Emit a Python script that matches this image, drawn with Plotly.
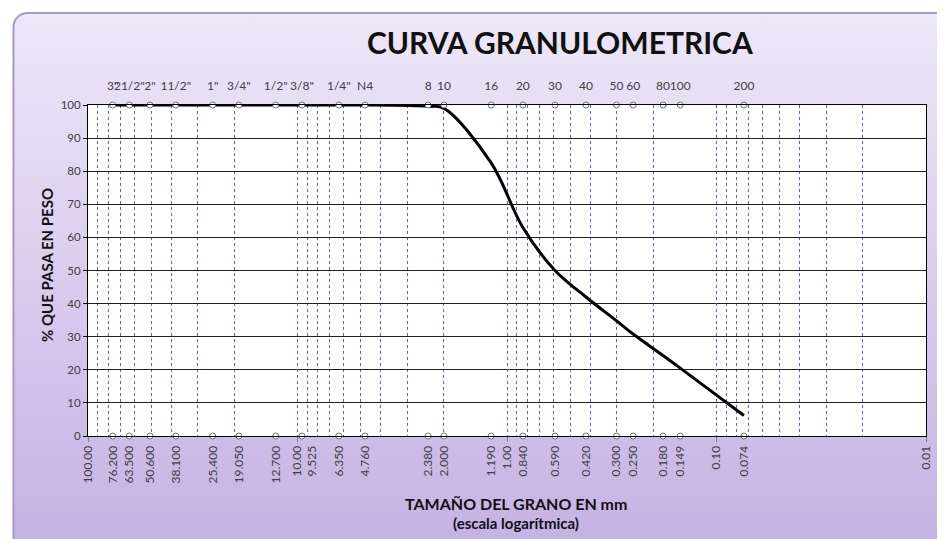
import base64
import plotly.graph_objects as go

# ---------------- data ----------------
sieve_names = ['3"', '21/2"', '2"', '11/2"', '1"', '3/4"', '1/2"', '3/8"', '1/4"', 'N4',
               '8', '10', '16', '20', '30', '40', '50', '60', '80', '100', '200']
sieve_mm = [76.2, 63.5, 50.6, 38.1, 25.4, 19.05, 12.7, 9.525, 6.35, 4.76,
            2.38, 2.0, 1.19, 0.84, 0.59, 0.42, 0.30, 0.25, 0.18, 0.149, 0.074]
passing = [100, 100, 100, 100, 100, 100, 100, 100, 100, 100,
           99.6, 99.0, 82.5, 63.0, 50.0, 42.0, 34.8, 30.8, 24.3, 20.5, 6.2]

bottom_vals = [100, 76.2, 63.5, 50.6, 38.1, 25.4, 19.05, 12.7, 10, 6.35, 4.76, 2.38, 2.0,
               1.19, 1.0, 0.84, 0.59, 0.42, 0.30, 0.25, 0.18, 0.149, 0.1, 0.074, 0.01]
bottom_text = ["100.00", "76.200", "63.500", "50.600", "38.100", "25.400", "19.050", "12.700",
               "10.00", "6.350", "4.760", "2.380", "2.000", "1.190", "1.00", "0.840", "0.590",
               "0.420", "0.300", "0.250", "0.180", "0.149", "0.10", "0.074", "0.01"]
shifted_val = [9.525]
shifted_text = ["9.525"]
y_ticks = [0, 10, 20, 30, 40, 50, 60, 70, 80, 90, 100]
y_bottom = [0] * len(sieve_mm)
y_top = [100] * len(sieve_mm)

FONT = "Lato"
TXT = "#404040"
XRANGE = [2, -2]
OFF = 8  # page body margin
W, H = 945 - OFF, 539 - OFF

# ---------------- background panel (gradient) ----------------
svg = """<svg xmlns='http://www.w3.org/2000/svg' width='948' height='548' viewBox='0 0 948 548'>
<defs><linearGradient id='g' x1='0' y1='0' x2='0' y2='1'>
<stop offset='0' stop-color='#ede8f8'/><stop offset='1' stop-color='#c3afe2'/></linearGradient></defs>
<rect x='1.5' y='1' width='960' height='560' rx='14' ry='14' fill='url(#g)' stroke='#a897cc' stroke-width='2'/>
</svg>"""
svg_uri = "data:image/svg+xml;base64," + base64.b64encode(svg.encode()).decode()

fig = go.Figure()

# curve
fig.add_trace(go.Scatter(x=sieve_mm, y=passing, mode="lines",
                         line=dict(color="black", width=3, shape="spline", smoothing=1.0),
                         cliponaxis=False, hoverinfo="x+y", showlegend=False, xaxis="x", yaxis="y"))
# sieve markers top
fig.add_trace(go.Scatter(x=sieve_mm, y=y_top, mode="markers", xaxis="x2", yaxis="y",
                         marker=dict(symbol="circle", size=6, color="white",
                                     line=dict(color="#707070", width=1)),
                         cliponaxis=False, showlegend=False, hoverinfo="skip"))
# sieve markers bottom
fig.add_trace(go.Scatter(x=sieve_mm, y=y_bottom, mode="markers", xaxis="x3", yaxis="y",
                         marker=dict(symbol="circle", size=6, color="white",
                                     line=dict(color="#707070", width=1)),
                         cliponaxis=False, showlegend=False, hoverinfo="skip"))
# helper trace for shifted label axis
fig.add_trace(go.Scatter(x=shifted_val, y=[0], mode="markers", xaxis="x4", yaxis="y",
                         marker=dict(opacity=0), showlegend=False, hoverinfo="skip"))

fig.update_layout(
    width=W, height=H,
    margin=dict(l=88 - OFF, r=W - (926 - OFF), t=105 - OFF, b=H - (436 - OFF)),
    paper_bgcolor="white", plot_bgcolor="white",
    font=dict(family=FONT, size=11, color=TXT),
    xaxis=dict(type="log", range=XRANGE, tickmode="array", tickvals=bottom_vals, ticktext=bottom_text,
               tickangle=-90, ticks="outside", ticklen=4, tickcolor="rgba(0,0,0,0)",
               showgrid=False, zeroline=False, showline=True, linecolor="black", linewidth=1,
               mirror=True, tickfont=dict(size=12, color=TXT, family=FONT)),
    xaxis2=dict(type="log", range=XRANGE, overlaying="x", side="top", anchor="y",
                tickmode="array", tickvals=sieve_mm, ticktext=sieve_names, tickangle=0,
                ticks="outside", ticklen=9, tickcolor="rgba(0,0,0,0)", showgrid=False,
                showline=False, zeroline=False, tickfont=dict(size=12, color=TXT, family=FONT)),
    xaxis3=dict(type="log", range=XRANGE, overlaying="x", side="bottom", anchor="y",
                tickmode="linear", tick0=0, dtick=1, ticks="outside", ticklen=5,
                tickcolor="#808080", showticklabels=False, showline=False, zeroline=False,
                showgrid=True, gridcolor="#5a5aff", griddash="dot", gridwidth=1,
                minor=dict(dtick="D1", showgrid=True, gridcolor="#5a5aff", griddash="dot",
                           gridwidth=1, ticks="")),
    xaxis4=dict(type="log", range=XRANGE, overlaying="x", side="bottom", anchor="y",
                tickmode="array", tickvals=shifted_val, ticktext=shifted_text, tickangle=-90,
                ticks="outside", ticklen=4, tickcolor="rgba(0,0,0,0)", ticklabelshift=-10,
                showgrid=False, showline=False, zeroline=False,
                tickfont=dict(size=12, color=TXT, family=FONT)),
    yaxis=dict(range=[0, 100], tickmode="array", tickvals=y_ticks, ticks="outside", ticklen=4,
               tickcolor="black", showline=True, linecolor="black", linewidth=1, mirror=True,
               showgrid=True, gridcolor="#202020", gridwidth=1, zeroline=False,
               tickfont=dict(size=11.5, color=TXT, family=FONT)),
    images=[dict(source=svg_uri, xref="paper", yref="paper",
                 x=(12 - 88) / 838, y=(436 - 12) / 331, sizex=948 / 838, sizey=548 / 331,
                 xanchor="left", yanchor="top", sizing="stretch", layer="below")],
    shapes=[dict(type="rect", xref="paper", yref="paper", x0=0, x1=1, y0=0, y1=1,
                 fillcolor="white", line=dict(width=0), layer="below")],
    annotations=[
        dict(text="CURVA GRANULOMETRICA", xref="paper", yref="paper",
             x=(560 - 88) / 838, y=(436 - 42) / 331, xanchor="center", yanchor="middle",
             showarrow=False, font=dict(family=FONT, size=30, color="#111111", weight="bold")),
        dict(text="% QUE PASA EN PESO", xref="paper", yref="paper", textangle=-90,
             x=(47 - 88) / 838, y=(436 - 265) / 331, xanchor="center", yanchor="middle",
             showarrow=False, font=dict(family=FONT, size=15, color="#111111", weight="bold")),
        dict(text="TAMAÑO DEL GRANO EN mm", xref="paper", yref="paper",
             x=(516 - 88) / 838, y=(436 - 503) / 331, xanchor="center", yanchor="middle",
             showarrow=False, font=dict(family=FONT, size=16, color="#111111", weight="bold")),
        dict(text="(escala logarítmica)", xref="paper", yref="paper",
             x=(516 - 88) / 838, y=(436 - 523) / 331, xanchor="center", yanchor="middle",
             showarrow=False, font=dict(family=FONT, size=15, color="#111111", weight="bold")),
    ],
)

fig.write_html("out.html")
